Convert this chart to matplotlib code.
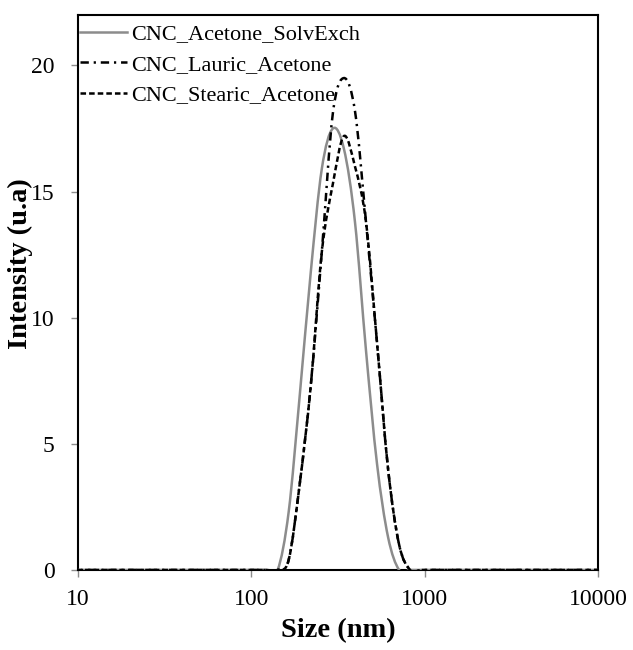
"""DLS intensity distributions of CNC samples in acetone (Excel-style smoothed lines)."""
import matplotlib
matplotlib.use("Agg")
import matplotlib.pyplot as plt
import numpy as np
from matplotlib.lines import Line2D
from matplotlib.patches import PathPatch
from matplotlib.path import Path

plt.rcParams["font.family"] = ["Liberation Serif", "DejaVu Serif"]
plt.rcParams["lines.scale_dashes"] = False

# Zetasizer size classes (nm), from just below the axis start up to 10000
sizes = [8.721, 10.1, 11.7, 13.54, 15.69, 18.17, 21.04, 24.36, 28.21, 32.67,
         37.84, 43.82, 50.75, 58.77, 68.06, 78.82, 91.28, 105.7, 122.4, 141.8,
         164.2, 190.1, 220.2, 255.0, 295.3, 342.0, 396.1, 458.7, 531.2, 615.1,
         712.4, 825.0, 955.4, 1106, 1281, 1484, 1718, 1990, 2305, 2669,
         3091, 3580, 4145, 4801, 5560, 6439, 7456, 8635, 10000]

# intensity (%) per size class, non-zero only around the peak
acetone_solvexch = [0] * 20 + [2.3, 6.9, 11.8, 15.9, 17.5, 16.7, 13.8, 8.7, 4.2, 1.3] + [0] * 19
lauric_acetone = [0] * 20 + [0.4, 3.4, 7.3, 12.6, 18.1, 19.5, 18.2, 13.8, 9.0, 4.0, 1.0] + [0] * 18
stearic_acetone = [0] * 20 + [0.4, 3.4, 7.3, 12.6, 15.3, 17.2, 16.0, 13.8, 9.0, 4.0, 1.0] + [0] * 18

labels = ["CNC_Acetone_SolvExch", "CNC_Lauric_Acetone", "CNC_Stearic_Acetone"]
x_ticks = [10, 100, 1000, 10000]
y_ticks = [0, 5, 10, 15, 20]


def smooth_path(x, y):
    """Catmull-Rom bezier through the points, built in log-x space."""
    lx = np.log10(np.asarray(x, dtype=float))
    y = np.asarray(y, dtype=float)
    n = len(lx)
    verts = [(lx[0], y[0])]
    codes = [Path.MOVETO]
    for i in range(n - 1):
        p0 = max(i - 1, 0)
        p3 = min(i + 2, n - 1)
        c1 = (lx[i] + (lx[i + 1] - lx[p0]) / 6, y[i] + (y[i + 1] - y[p0]) / 6)
        c2 = (lx[i + 1] - (lx[p3] - lx[i]) / 6, y[i + 1] - (y[p3] - y[i]) / 6)
        verts += [c1, c2, (lx[i + 1], y[i + 1])]
        codes += [Path.CURVE4] * 3
    verts = np.array(verts)
    verts[:, 0] = 10 ** verts[:, 0]
    return Path(verts, codes)


styles = [
    dict(color="#8c8c8c", lw=1.8, ls="-"),
    dict(color="black", lw=1.8, ls=(0, (6, 3.5, 1.6, 3.5))),
    dict(color="black", lw=1.8, ls=(0, (4, 2.2))),
]
series = [acetone_solvexch, lauric_acetone, stearic_acetone]

fig = plt.figure(figsize=(6.33, 6.5), dpi=100)
ax = fig.add_axes([78 / 633, 80 / 650, 520 / 633, 555 / 650])
ax.set_xscale("log")
ax.set_xlim(10, 10000)
ax.set_ylim(0, 22)

handles = []
for vals, st, lab in zip(series, styles, labels):
    patch = PathPatch(smooth_path(sizes, vals), fill=False, edgecolor=st["color"],
                      linewidth=st["lw"], linestyle=st["ls"], zorder=3)
    ax.add_patch(patch)
    handles.append(Line2D([], [], color=st["color"], lw=st["lw"], ls=st["ls"], label=lab))

ax.set_xticks(x_ticks, [str(t) for t in x_ticks])
ax.xaxis.set_minor_locator(matplotlib.ticker.NullLocator())
ax.set_yticks(y_ticks, [str(t) for t in y_ticks])
ax.tick_params(axis="both", which="major", direction="out", length=5, width=1,
               color="#8c8c8c", labelsize=17)
ax.tick_params(axis="x", pad=9)
ax.tick_params(axis="y", pad=12)
for sp in ax.spines.values():
    sp.set_color("black")
    sp.set_linewidth(1.5)

ax.legend(handles=handles, loc="upper left", bbox_to_anchor=(0, 0.988), frameon=False,
          fontsize=16, handlelength=2.1, handletextpad=0.2, labelspacing=0.45,
          borderaxespad=0.0, borderpad=0.1)

fig.text(338 / 633, (650 - 631) / 650, "Size (nm)", ha="center", va="center",
         fontsize=20.5, fontweight="bold")
fig.text(20 / 633, (650 - 264) / 650, "Intensity (u.a)", ha="center", va="center",
         rotation=90, fontsize=20.5, fontweight="bold")

fig.savefig("out.png", dpi=100)
